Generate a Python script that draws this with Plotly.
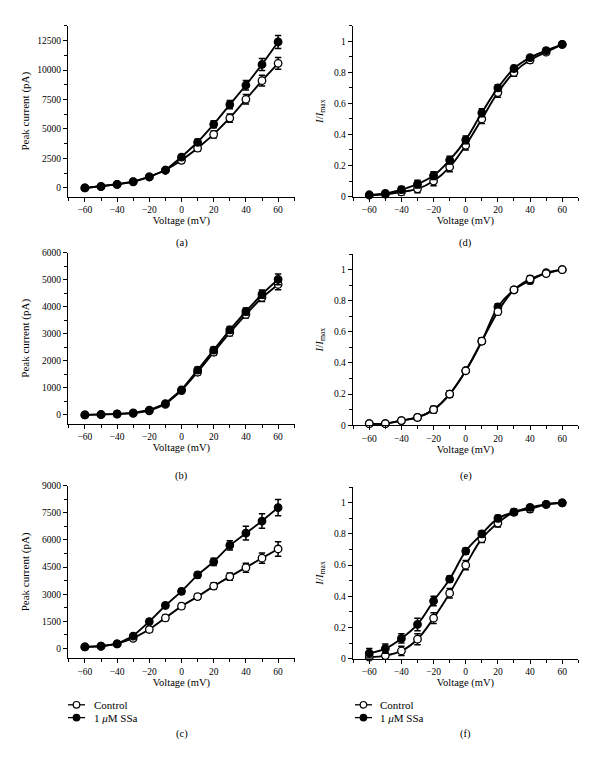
import plotly.graph_objects as go

# ---------------- data ----------------
voltage = [-60, -50, -40, -30, -20, -10, 0, 10, 20, 30, 40, 50, 60]

a_ctrl = [0, 120, 300, 520, 930, 1500, 2340, 3370, 4540, 5930, 7520, 9100, 10570]
a_ctrl_err = [40, 50, 60, 70, 90, 130, 200, 250, 300, 350, 400, 450, 500]
a_ssa = [0, 140, 310, 530, 940, 1500, 2620, 3870, 5400, 7070, 8710, 10470, 12380]
a_ssa_err = [40, 50, 60, 70, 90, 130, 200, 250, 300, 350, 400, 500, 550]

b_ctrl = [0, 10, 30, 60, 150, 390, 900, 1580, 2320, 3050, 3720, 4350, 4830]
b_ctrl_err = [30, 30, 30, 40, 50, 60, 80, 100, 110, 120, 130, 150, 200]
b_ssa = [0, 15, 40, 75, 180, 420, 930, 1660, 2400, 3150, 3830, 4470, 5020]
b_ssa_err = [30, 30, 30, 40, 50, 60, 80, 100, 110, 120, 130, 150, 200]

c_ctrl = [90, 127, 254, 563, 1053, 1689, 2343, 2869, 3450, 3977, 4467, 4994, 5502]
c_ctrl_err = [50, 50, 60, 100, 150, 150, 150, 150, 180, 200, 250, 280, 400]
c_ssa = [91, 127, 254, 690, 1489, 2379, 3160, 4068, 4794, 5702, 6374, 7046, 7790]
c_ssa_err = [50, 50, 60, 80, 100, 120, 150, 150, 200, 250, 380, 400, 450]

d_ctrl = [0.01, 0.015, 0.03, 0.05, 0.10, 0.19, 0.33, 0.50, 0.67, 0.80, 0.88, 0.93, 0.98]
d_ctrl_err = [0.01, 0.01, 0.02, 0.025, 0.03, 0.03, 0.03, 0.03, 0.03, 0.025, 0.02, 0.015, 0.01]
d_ssa = [0.01, 0.02, 0.045, 0.08, 0.135, 0.235, 0.365, 0.54, 0.70, 0.825, 0.895, 0.94, 0.98]
d_ssa_err = [0.01, 0.01, 0.02, 0.025, 0.025, 0.025, 0.025, 0.025, 0.02, 0.02, 0.015, 0.015, 0.01]

e_ctrl = [0.01, 0.01, 0.03, 0.05, 0.10, 0.20, 0.35, 0.54, 0.73, 0.87, 0.94, 0.975, 1.0]
e_ctrl_err = [0.01, 0.01, 0.01, 0.015, 0.02, 0.02, 0.015, 0.02, 0.02, 0.015, 0.02, 0.015, 0.01]
e_ssa = [0.01, 0.01, 0.03, 0.05, 0.10, 0.20, 0.35, 0.54, 0.76, 0.87, 0.93, 0.98, 1.0]
e_ssa_err = [0.01, 0.01, 0.01, 0.015, 0.02, 0.02, 0.015, 0.02, 0.02, 0.015, 0.02, 0.015, 0.01]

f_ctrl = [0.01, 0.02, 0.05, 0.125, 0.26, 0.42, 0.60, 0.77, 0.87, 0.94, 0.96, 0.99, 1.0]
f_ctrl_err = [0.01, 0.02, 0.03, 0.035, 0.035, 0.03, 0.03, 0.025, 0.025, 0.02, 0.02, 0.015, 0.01]
f_ssa = [0.035, 0.065, 0.13, 0.22, 0.37, 0.51, 0.69, 0.80, 0.90, 0.94, 0.97, 0.99, 1.0]
f_ssa_err = [0.03, 0.03, 0.03, 0.04, 0.03, 0.02, 0.02, 0.02, 0.02, 0.015, 0.015, 0.01, 0.01]

x_ticks = [-60, -40, -20, 0, 20, 40, 60]
series_names = ["Control", "1 <i>\u03bc</i>M SSa"]
captions = ["(a)", "(b)", "(c)", "(d)", "(e)", "(f)"]

# ---------------- layout helpers ----------------
# The page body keeps its default 8 px margin, so the figure is sized to fit
# the 600x777 window inside it and positions are converted from window pixels.
OFF = 8
W, H = 600 - 2 * OFF, 777 - 2 * OFF
FONT = "Liberation Serif"


def px(x):
    return (x - OFF) / W


def py(y):
    return 1 - (y - OFF) / H


panels = [
    # key, ctrl, ctrl_err, ssa, ssa_err, (x0,x1), (ytop,ybot), yrange, dtick, minor, spline, ctrl_on_top
    ("a", a_ctrl, a_ctrl_err, a_ssa, a_ssa_err, (68, 295), (21, 194), [-730, 13750], 2500, 1250, False, False),
    ("b", b_ctrl, b_ctrl_err, b_ssa, b_ssa_err, (68, 295), (251, 424.3), [-330, 6000], 1000, 500, False, False),
    ("c", c_ctrl, c_ctrl_err, c_ssa, c_ssa_err, (68, 295), (487, 661.7), [-530, 9000], 1500, 750, False, False),
    ("d", d_ctrl, d_ctrl_err, d_ssa, d_ssa_err, (352.7, 578.3), (21, 194), [0, 1.1], 0.2, 0.1, True, False),
    ("e", e_ctrl, e_ctrl_err, e_ssa, e_ssa_err, (352.7, 578.3), (252.3, 425.7), [0, 1.1], 0.2, 0.1, True, True),
    ("f", f_ctrl, f_ctrl_err, f_ssa, f_ssa_err, (352.7, 578.3), (488.5, 662.3), [0, 1.1], 0.2, 0.1, True, False),
]

fig = go.Figure()
layout = dict(
    width=W, height=H,
    margin=dict(l=0, r=0, t=0, b=0),
    paper_bgcolor="white", plot_bgcolor="white",
    showlegend=False,
    font=dict(family=FONT, color="black", size=10),
)

annotations = []
shapes = []

for i, (key, ctrl, ctrl_err, ssa, ssa_err, (x0, x1), (yt, yb), yr, dt, mn, spline, ctrl_top) in enumerate(panels):
    n = "" if i == 0 else str(i + 1)
    xa, ya = "x" + n, "y" + n
    shape = "spline" if spline else "linear"

    def trace(vals, errs, filled):
        return go.Scatter(
            x=voltage, y=vals, xaxis=xa, yaxis=ya,
            mode="lines+markers",
            line=dict(color="black", width=1.9, shape=shape, smoothing=1.0),
            marker=dict(size=7.5, color="black" if filled else "white",
                        line=dict(color="black", width=1.3)),
            error_y=dict(type="data", array=errs, visible=True,
                         color="black", thickness=1.5, width=3.2),
            cliponaxis=False,
            hoverinfo="x+y",
        )

    t_ctrl = trace(ctrl, ctrl_err, False)
    t_ssa = trace(ssa, ssa_err, True)
    if ctrl_top:
        fig.add_trace(t_ssa)
        fig.add_trace(t_ctrl)
    else:
        fig.add_trace(t_ctrl)
        fig.add_trace(t_ssa)

    xrange = [-70.5, 70.5] if x0 < 300 else [-70.3, 70.0]
    layout["xaxis" + n] = dict(
        domain=[px(x0), px(x1)], range=xrange, anchor=ya,
        tickvals=x_ticks, ticks="outside", ticklen=4, tickwidth=1, tickcolor="black",
        minor=dict(dtick=10, tick0=-70, ticks="outside", ticklen=3, tickcolor="black", tickwidth=1),
        showline=True, linecolor="black", linewidth=1,
        showgrid=False, zeroline=False,
        tickfont=dict(size=9.5, family=FONT),
        title=dict(text="Voltage (mV)", font=dict(size=10.5, family=FONT), standoff=2),
    )
    if x0 < 300:
        ytitle = "Peak current (pA)"
        standoff = 5 if key == "a" else 9.5
    else:
        ytitle = "<i>I</i>/<i>I</i><sub>max</sub>"
        standoff = 8
    layout["yaxis" + n] = dict(
        domain=[py(yb), py(yt)], range=yr, anchor=xa,
        tick0=0, dtick=dt, ticks="outside", ticklen=4, tickwidth=1, tickcolor="black",
        minor=dict(dtick=mn, tick0=0, ticks="outside", ticklen=3, tickcolor="black", tickwidth=1),
        showline=True, linecolor="black", linewidth=1,
        showgrid=False, zeroline=False,
        tickformat="d" if x0 < 300 else "",
        tickfont=dict(size=9.5, family=FONT),
        title=dict(text=ytitle, font=dict(size=11, family=FONT), standoff=standoff),
    )

    cap_y = {0: 241, 1: 477, 2: 739}[i % 3]
    annotations.append(dict(
        text=captions[i], x=px((x0 + x1) / 2), y=py(cap_y), xref="paper", yref="paper",
        showarrow=False, xanchor="center", yanchor="middle",
        font=dict(size=10.5, family=FONT),
    ))

# ---------------- legends under (c) and (f) ----------------
for lx0, lx1, tx in [(68, 85, 92), (355, 372, 378)]:
    for row, (ly, filled) in enumerate([(709, False), (722, True)]):
        shapes.append(dict(type="line", xref="paper", yref="paper",
                           x0=px(lx0), x1=px(lx1), y0=py(ly), y1=py(ly),
                           line=dict(color="black", width=1.3)))
        cx = (lx0 + lx1) / 2
        shapes.append(dict(type="circle", xref="paper", yref="paper",
                           xsizemode="pixel", ysizemode="pixel",
                           xanchor=px(cx), yanchor=py(ly),
                           x0=-3.3, x1=3.3, y0=-3.3, y1=3.3,
                           fillcolor="black" if filled else "white",
                           line=dict(color="black", width=1.2)))
        annotations.append(dict(
            text=series_names[row], x=px(tx), y=py(ly), xref="paper", yref="paper",
            showarrow=False, xanchor="left", yanchor="middle",
            font=dict(size=11, family=FONT),
        ))

layout["annotations"] = annotations
layout["shapes"] = shapes
fig.update_layout(**layout)

fig.write_html("out.html")
